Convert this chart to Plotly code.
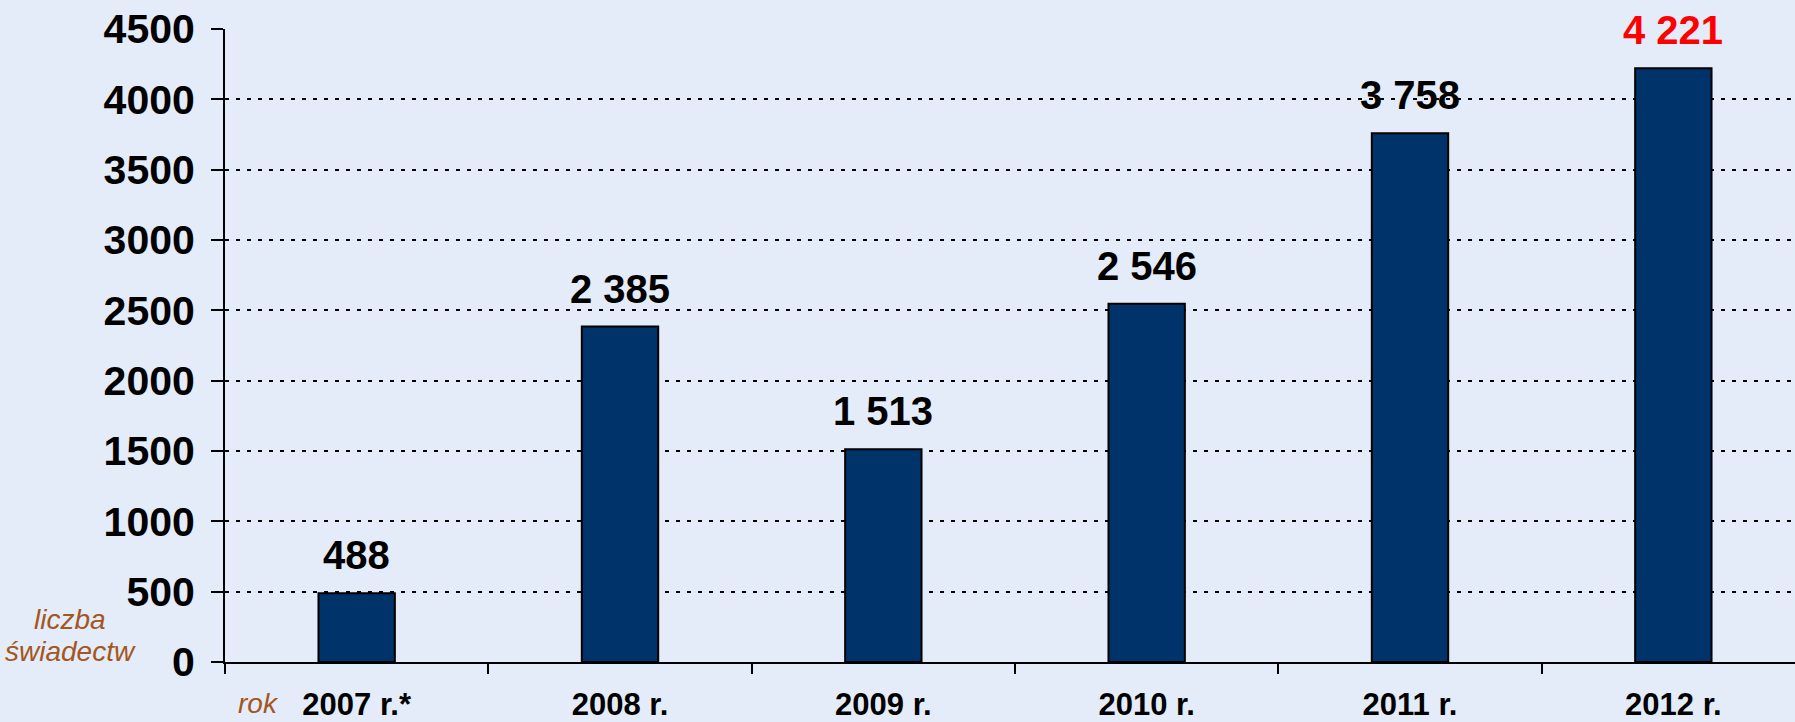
import plotly.graph_objects as go

# ---- data ----
categories = ["2007 r.*", "2008 r.", "2009 r.", "2010 r.", "2011 r.", "2012 r."]
values = [488, 2385, 1513, 2546, 3758, 4221]
label_colors = ["#000000", "#000000", "#000000", "#000000", "#000000", "#FF0000"]
y_ticks = [0, 500, 1000, 1500, 2000, 2500, 3000, 3500, 4000, 4500]
y_title_lines = ["liczba", "świadectw"]
x_title = "rok"

W, H = 1795, 722
ML, MR, MT, MB = 225, 0, 29, 60
BG = "#E3ECF8"
BAR = "#00336A"
BROWN = "#A3561E"
FONT = "Liberation Sans"

fig = go.Figure()
fig.add_trace(go.Bar(
    x=categories, y=values,
    width=0.29,
    marker=dict(color=BAR, line=dict(color="#000000", width=2)),
    hoverinfo="skip",
    cliponaxis=False,
))

for c, v, col in zip(categories, values, label_colors):
    fig.add_annotation(
        x=c, y=v, xref="x", yref="y",
        text=f"{v:,}".replace(",", " "),
        showarrow=False, yanchor="middle", yshift=38,
        font=dict(family=FONT, size=40, color=col, weight="bold"),
    )

plot_w = W - ML - MR
plot_h = H - MT - MB
for line, ypx in zip(y_title_lines, [619, 651]):
    fig.add_annotation(
        x=(70 - ML) / plot_w, y=(H - MB - ypx) / plot_h,
        xref="paper", yref="paper", text=line, showarrow=False,
        xanchor="center", yanchor="middle",
        font=dict(family=FONT, size=28, color=BROWN, style="italic"),
    )
fig.add_annotation(
    x=(258 - ML) / plot_w, y=(H - MB - 703) / plot_h,
    xref="paper", yref="paper", text=x_title, showarrow=False,
    xanchor="center", yanchor="middle",
    font=dict(family=FONT, size=28, color=BROWN, style="italic"),
)

fig.update_layout(
    width=W, height=H,
    margin=dict(l=ML, r=MR, t=MT, b=MB, pad=0),
    paper_bgcolor=BG, plot_bgcolor=BG,
    showlegend=False,
    xaxis=dict(
        type="category",
        range=[-0.5, len(categories) - 0.5 - 0.038],
        showline=True, linecolor="#000000", linewidth=2,
        ticks="outside", tickson="boundaries", ticklen=10, tickwidth=2, tickcolor="#000000",
        showgrid=False, zeroline=False,
        tickfont=dict(family=FONT, size=31, color="#000000", weight="bold"),
        ticklabelstandoff=14,
        fixedrange=True,
    ),
    yaxis=dict(
        range=[0, 4500],
        tickvals=y_ticks,
        showline=True, linecolor="#000000", linewidth=2,
        ticks="outside", ticklen=12, tickwidth=2, tickcolor="#000000",
        showgrid=True, gridcolor="#000000", gridwidth=2, griddash="4px,7px",
        zeroline=False,
        tickfont=dict(family=FONT, size=41, color="#000000", weight="bold"),
        ticklabelstandoff=8,
        fixedrange=True,
    ),
)

fig.write_html(
    "out.html",
    config={"displayModeBar": False},
    post_script="document.body.style.margin='0';document.body.style.overflow='hidden';",
)
